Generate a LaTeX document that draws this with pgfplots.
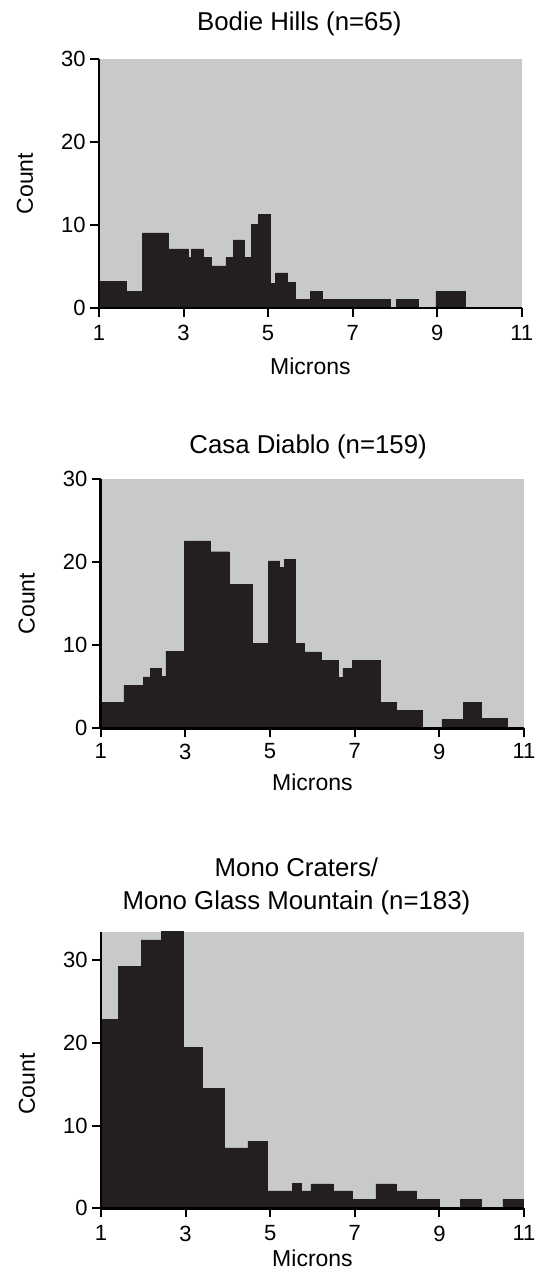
\documentclass[border=0pt]{standalone}
\usepackage{fontspec}
\setmainfont{Liberation Sans}
\usepackage{pgfplots}
\pgfplotsset{compat=1.18}

\definecolor{bggrey}{RGB}{200,201,203}
\definecolor{barblack}{RGB}{35,31,32}

% common look of the three histograms
\pgfplotsset{
  histo/.style={
    scale only axis,
    anchor=south west,
    xmin=1, xmax=11, ymin=0, ymax=30,
    axis x line*=bottom, axis y line*=left,
    axis on top,
    axis line style={line width=1.2pt, black},
    axis background/.style={fill=bggrey},
    xtick={1,3,5,7,9,11}, ytick={0,10,20,30},
    minor tick num=0,
    tick align=outside,
    major tick length=4.5pt,
    tick style={line width=1pt, black},
    /pgf/number format/assume math mode=true,
    ticklabel style={font=\fontsize{11}{13}\selectfont, inner sep=2pt},
    label style={font=\fontsize{11.5}{14}\selectfont},
    xlabel={Microns},
    ylabel={Count},
    every axis title shift=0pt,
    title style={font=\fontsize{12.9}{16.5}\selectfont, align=center,
      anchor=south, inner sep=0pt, text depth=0pt},
  },
  bars/.style={ybar interval, fill=barblack, draw=barblack, line width=0.2pt},
}

\begin{document}
\begin{tikzpicture}
\path[use as bounding box] (0,0) rectangle (269pt,-638pt);

% Bodie Hills
\begin{axis}[histo,
    at={(49.5pt,-153.85pt)}, width=211.35pt, height=124.2pt,
    title={Bodie Hills (n=65)},
    title style={at={(axis description cs:0.474,1)}, yshift=14.3pt},
    xticklabel style={yshift=-2pt},
    xlabel style={at={(axis description cs:0.5,0)}, anchor=base, yshift=-33.5pt},
    ylabel style={at={(axis description cs:-0.175,0.5)}, anchor=center},
  ]
  \addplot[bars] coordinates {
    (1,3.2) (1.655,1.95) (2.025,9.05) (2.64,7.1) (3.11,6.05) (3.18,7.1)
    (3.47,6.05) (3.65,5.05) (4.0,6.05) (4.18,8.2) (4.43,6.05) (4.6,10.1)
    (4.77,11.3) (5.05,2.95) (5.17,4.2) (5.46,3.05) (5.65,1) (6.0,2)
    (6.28,1) (7.88,0) (8.04,1) (8.55,0) (8.97,1.95) (9.66,0) (11,0)
  };
\end{axis}

% Casa Diablo
\begin{axis}[histo,
    at={(50.35pt,-364.15pt)}, width=211.65pt, height=124.65pt,
    title={Casa Diablo (n=159)},
    title style={at={(axis description cs:0.49,1)}, yshift=12.5pt},
    xticklabel style={yshift=-1pt},
    xlabel style={at={(axis description cs:0.5,0)}, anchor=base, yshift=-31pt},
    ylabel style={at={(axis description cs:-0.175,0.5)}, anchor=center},
  ]
  \addplot[bars] coordinates {
    (1,3.13) (1.55,5.2) (2.01,6.2) (2.17,7.2) (2.43,6.25) (2.54,9.3)
    (2.98,22.55) (3.58,21.25) (4.03,17.3) (4.58,10.25) (4.96,20.15)
    (5.21,19.35) (5.34,20.3) (5.6,10.25) (5.81,9.2) (6.21,8.2) (6.61,6.15)
    (6.72,7.25) (6.94,8.2) (7.6,3.13) (7.99,2.2) (8.6,0) (9.06,1.1)
    (9.57,3.13) (10.0,1.2) (10.61,0) (11,0)
  };
\end{axis}

% Mono Craters / Mono Glass Mountain
\begin{axis}[histo,
    at={(50.5pt,-604.15pt)}, width=211.5pt, height=138.3pt,
    ymax=33.4,
    title={Mono Craters/\\Mono Glass Mountain (n=183)},
    title style={at={(axis description cs:0.462,1)}, yshift=10.85pt},
    xticklabel style={yshift=-2pt},
    xlabel style={at={(axis description cs:0.5,0)}, anchor=base, yshift=-29.3pt},
    ylabel style={at={(axis description cs:-0.175,0.449)}, anchor=center},
  ]
  \addplot[bars] coordinates {
    (1,22.85) (1.41,29.2) (1.95,32.4) (2.42,33.5) (2.95,19.4) (3.4,14.5)
    (3.92,7.3) (4.47,8.1) (4.92,2.1) (5.52,3) (5.74,2.1) (5.96,2.95)
    (6.49,2.1) (6.93,1.1) (7.5,2.95) (7.97,2.1) (8.46,1.1) (9.0,0)
    (9.5,1.1) (10.0,0) (10.5,1.1) (11,0)
  };
\end{axis}
\end{tikzpicture}
\end{document}
